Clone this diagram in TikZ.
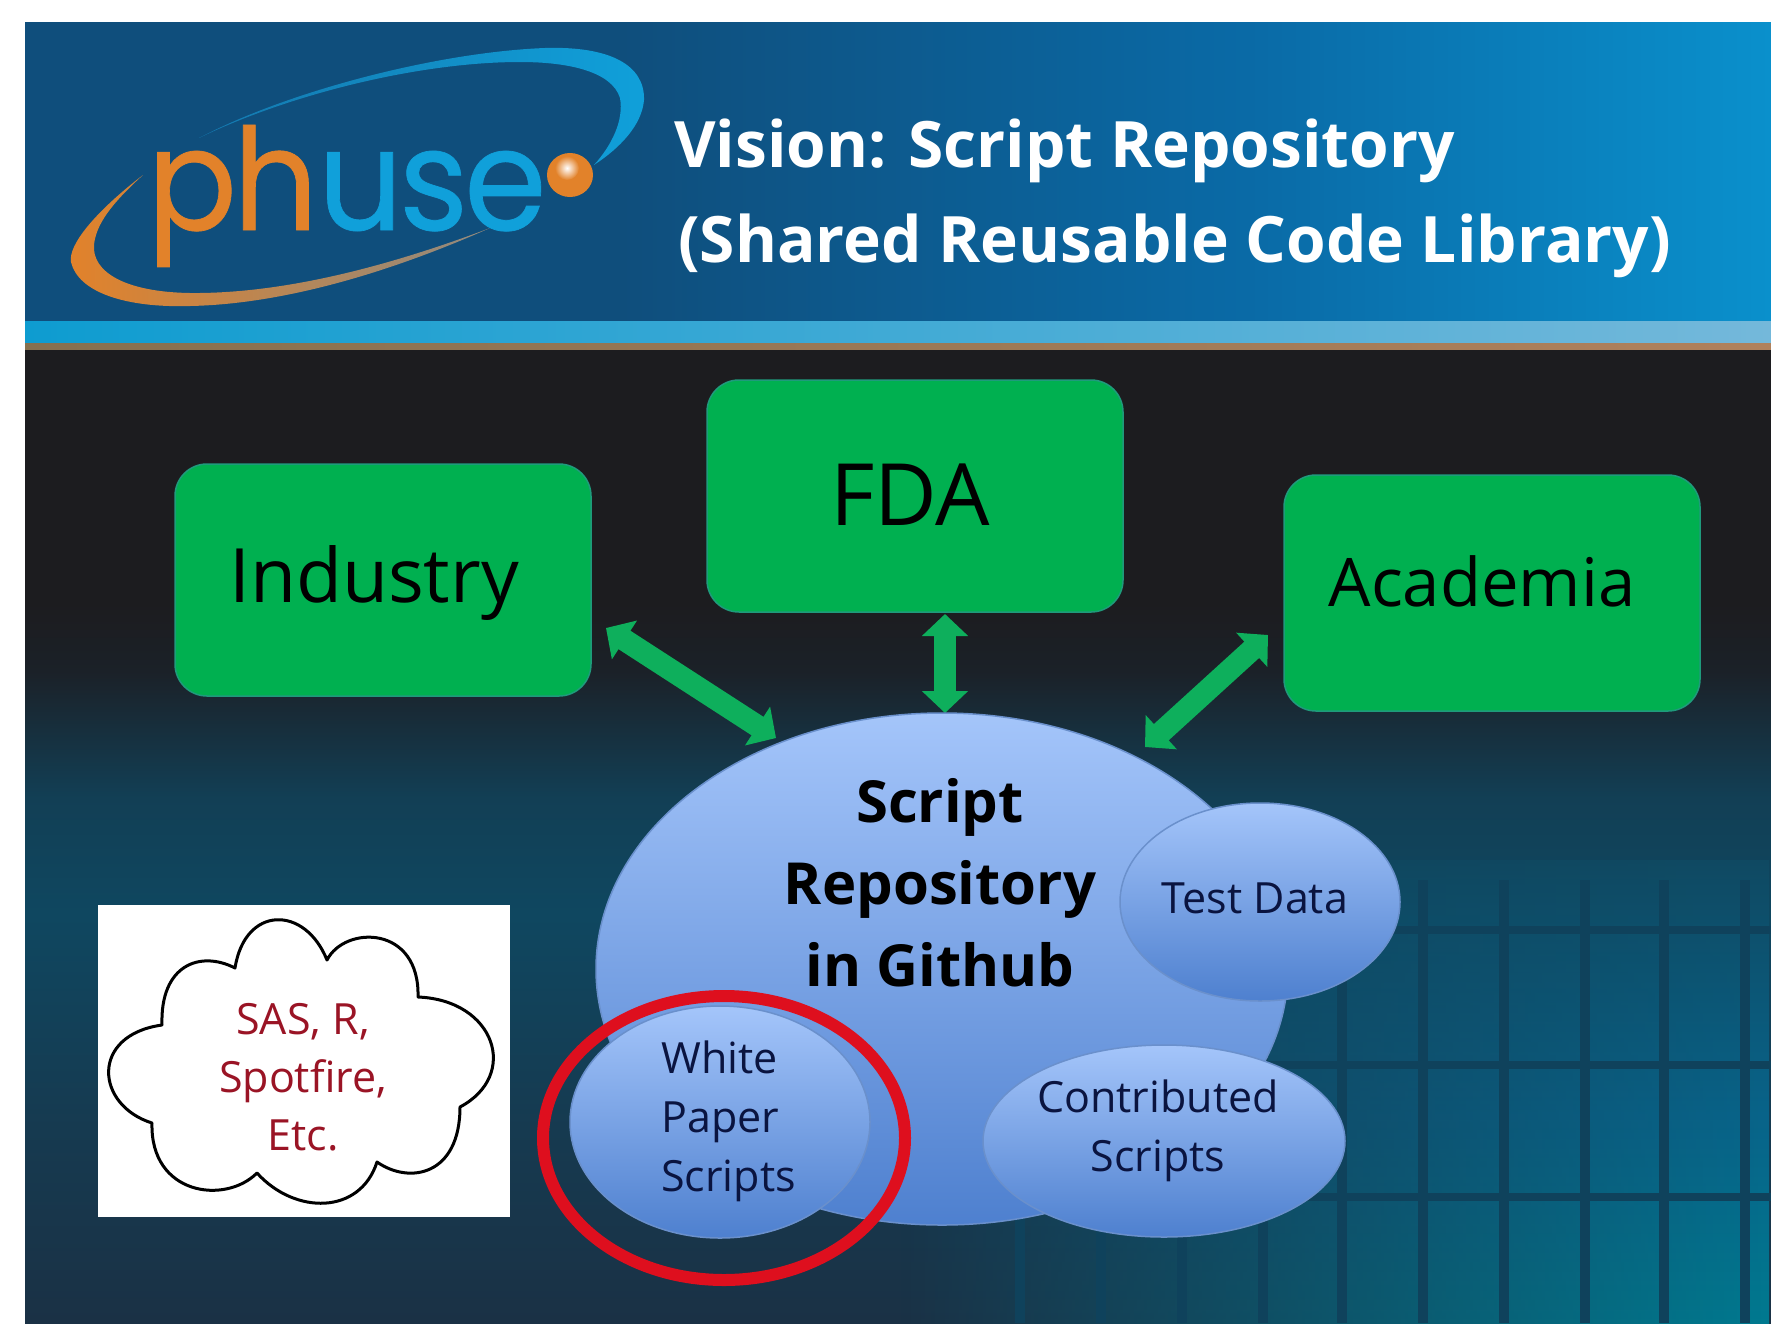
\documentclass[tikz,border=0pt]{standalone}
\usepackage{graphicx}
\usepackage{fontspec}
\setmainfont{Open Sans}
\newfontfamily\logofont{Poppins}
\usetikzlibrary{arrows.meta,shapes.geometric,fadings,calc}
\definecolor{bandL}{HTML}{0F4E7C}
\definecolor{bandM}{HTML}{0A6AA6}
\definecolor{bandR}{HTML}{0A90CC}
\definecolor{stripeL}{HTML}{0E9CD0}
\definecolor{stripeR}{HTML}{74B8DA}
\definecolor{lineL}{HTML}{86704F}
\definecolor{lineR}{HTML}{B0815C}
\definecolor{bgA}{HTML}{1C1C1F}
\definecolor{bgB}{HTML}{1B2128}
\definecolor{bgC}{HTML}{123F55}
\definecolor{bgD}{HTML}{0F4760}
\definecolor{bgE}{HTML}{163A50}
\definecolor{bgF}{HTML}{1A3145}
\definecolor{paneT}{HTML}{0F4A63}
\definecolor{paneM}{HTML}{08648A}
\definecolor{paneB}{HTML}{007A90}
\definecolor{grout}{HTML}{0F425C}
\definecolor{boxgreen}{HTML}{00B050}
\definecolor{boxedge}{HTML}{1F9A7C}
\definecolor{arrowgreen}{HTML}{0EAF5C}
\definecolor{bubT}{HTML}{A4C5FA}
\definecolor{bubB}{HTML}{4E80CF}
\definecolor{bubEdge}{HTML}{6A90CC}
\definecolor{ringred}{HTML}{DE0F1E}
\definecolor{sasred}{HTML}{9A1425}
\definecolor{logoO}{HTML}{E2822A}
\definecolor{logoG}{HTML}{8F8A80}
\definecolor{logoB}{HTML}{10A0DA}
\definecolor{logoBd}{HTML}{1478AE}
\definecolor{inkblue}{HTML}{0A1440}
\pgfdeclareverticalshading{bodyshade}{100bp}{
 color(0bp)=(bgF); color(25bp)=(bgF); color(35bp)=(bgE); color(46bp)=(bgD); color(52bp)=(bgC); color(58.5bp)=(bgB); color(62bp)=(bgA); color(100bp)=(bgA)}
\pgfdeclareverticalshading{paneshade}{100bp}{
 color(0bp)=(paneB); color(25bp)=(paneB); color(47.5bp)=(paneM); color(75bp)=(paneT); color(100bp)=(paneT)}
\pgfdeclarehorizontalshading{bannershade}{100bp}{
 color(0bp)=(bandL); color(25bp)=(bandL); color(42bp)=(bandL); color(60bp)=(bandM); color(75bp)=(bandR); color(100bp)=(bandR)}
\tikzset{
 greenbox/.style={rectangle,rounded corners=32pt,fill=boxgreen,draw=boxedge,line width=1.5pt,
   minimum width=416pt,minimum height=232pt,inner sep=0pt,text=black},
 bubble/.style={ellipse,top color=bubT,bottom color=bubB,draw=bubEdge,line width=1.5pt,inner sep=0pt},
 bubtext/.style={text=inkblue,font=\fontsize{43}{59}\selectfont,inner sep=0pt},
 gridline/.style={draw=grout,line width=10pt},
 linkarrow/.style={draw=arrowgreen,line width=22pt,{Triangle[length=22pt,width=45pt]}-{Triangle[length=22pt,width=45pt]}},
}
\begin{document}
\begin{tikzpicture}[x=1pt,y=-1pt]
\useasboundingbox (0,0) rectangle (1771,1323);
\fill[white] (0,0) rectangle (1771,1323);
% banner
\shade[shading=bannershade] (25,22) rectangle (1771,322);
\shade[left color=stripeL,right color=stripeR] (25,321) rectangle (1771,343);
\shade[left color=lineL,right color=lineR] (25,343) rectangle (1771,350);
% body
\shade[shading=bodyshade] (25,350) rectangle (1771,1323);
% glass grid
\begin{scope}
\clip (25,350) rectangle (1771,1323);
\shade[shading=paneshade,path fading=west] (900,860) rectangle (1771,1323);
\foreach \gx in {1020,1101,1182,1263,1342,1423,1504,1585,1664,1745}{
  \draw[gridline] (\gx,880) -- (\gx,1323);}
\foreach \gy in {930,1065,1197}{
  \draw[draw=grout,line width=8pt] (1020,\gy) -- (1771,\gy);}
\end{scope}
% logo swooshes
\shade[left color=logoBd,right color=logoB]
 (199,138) .. controls (290,90) and (440,52) .. (545,48)
 .. controls (610,46) and (645,65) .. (644,100)
 .. controls (642,125) and (620,148) .. (594,165)
 .. controls (612,145) and (624,120) .. (620,98)
 .. controls (612,72) and (570,62) .. (520,62)
 .. controls (420,62) and (290,94) .. (199,138) -- cycle;
\shade[left color=logoO,right color=logoG]
 (143,175) .. controls (95,212) and (68,245) .. (71,262)
 .. controls (78,292) and (125,308) .. (190,306)
 .. controls (290,304) and (400,268) .. (490,228)
 .. controls (400,262) and (290,294) .. (190,293)
 .. controls (125,292) and (92,272) .. (94,245)
 .. controls (96,225) and (110,205) .. (143,175) -- cycle;
\node[anchor=base west,inner sep=0pt,font=\logofont\fontsize{142}{142}\selectfont] (logotext) at (147,230)
 {\scalebox{0.935}[1]{\addfontfeatures{LetterSpace=-3,FakeBold=0.5}\textcolor{logoO}{ph}\textcolor{logoB}{use}}};
\fill[logoO] (570,175) circle[x radius=23,y radius=22];
\shade[inner color=white,outer color=logoO] (567,168) circle[radius=12];
% title
\node[anchor=base west,inner sep=0pt,text=white,font=\bfseries\fontsize{64}{64}\selectfont] (title1) at (674,167) {Vision: Script Repository};
\node[anchor=base west,inner sep=0pt,text=white,font=\bfseries\fontsize{64}{64}\selectfont] (title2) at (678,262) {(Shared Reusable Code Library)};
% green boxes
\node[greenbox] (industry) at (383,580) {};
\node[anchor=base,inner sep=0pt,font=\fontsize{75}{75}\selectfont] (industrytxt) at (374,602) {Industry};
\node[greenbox] (fda) at (915,496) {};
\node[anchor=base,inner sep=0pt,font=\fontsize{86}{86}\selectfont] (fdatxt) at (910,525) {FDA};
\node[greenbox,minimum height=236pt] (academia) at (1492,593) {};
\node[anchor=base,inner sep=0pt,font=\fontsize{67}{67}\selectfont] (academiatxt) at (1482,606) {Academia};
% connectors
\coordinate (indtip) at (606,628);
\coordinate (repoL) at (776,738);
\coordinate (fdatip) at (945,614);
\coordinate (repoT) at (945,713);
\coordinate (acatip) at (1268,635);
\coordinate (repoR) at (1145,747);
\draw[linkarrow] (indtip) -- (repoL);
\draw[linkarrow] (fdatip) -- (repoT);
\draw[linkarrow] (acatip) -- (repoR);
% repository
\node[bubble,minimum width=692pt,minimum height=512pt] (repo) at (942,969) {};
\node[anchor=base,inner sep=0pt,text=black,font=\bfseries\fontsize{58}{82}\selectfont,align=center] (repotxt) at (940,986)
 {Script\\Repository\\in Github};
\node[bubble,minimum width=280pt,minimum height=198pt] (testdata) at (1260,902) {};
\node[bubtext] (testtxt) at (1255,898) {Test Data};
\node[bubble,minimum width=362pt,minimum height=192pt] (contrib) at (1164,1141) {};
\node[bubtext,align=center,anchor=center] (contribtxt) at (1158,1131) {Contributed\\Scripts};
\node[bubble,minimum width=300pt,minimum height=232pt] (white) at (720,1122) {};
\node[bubtext,align=left,anchor=west] (whitetxt) at (661,1121) {White\\Paper\\Scripts};
\node[ellipse,draw=ringred,line width=12pt,minimum width=362pt,minimum height=284pt,inner sep=0pt] (ring) at (724,1138) {};
% languages box
\node[rectangle,fill=white,minimum width=412pt,minimum height=312pt,inner sep=0pt] (langbox) at (304,1061) {};
\draw[black,line width=3pt,line join=round,fill=white]
 (235,968) .. controls (245,905) and (305,905) .. (327,960)
 .. controls (345,925) and (420,925) .. (418,997)
 .. controls (495,1000) and (520,1075) .. (460,1107)
 .. controls (460,1175) and (410,1185) .. (377,1162)
 .. controls (360,1215) and (295,1215) .. (257,1173)
 .. controls (225,1205) and (150,1195) .. (152,1123)
 .. controls (95,1105) and (90,1035) .. (162,1025)
 .. controls (160,965) and (200,950) .. (235,968) -- cycle;
\node[text=sasred,align=center,inner sep=0pt,font=\fontsize{43}{58}\selectfont] (langtxt) at (303,1077) {SAS, R,\\Spotfire,\\Etc.};
\end{tikzpicture}
\end{document}
